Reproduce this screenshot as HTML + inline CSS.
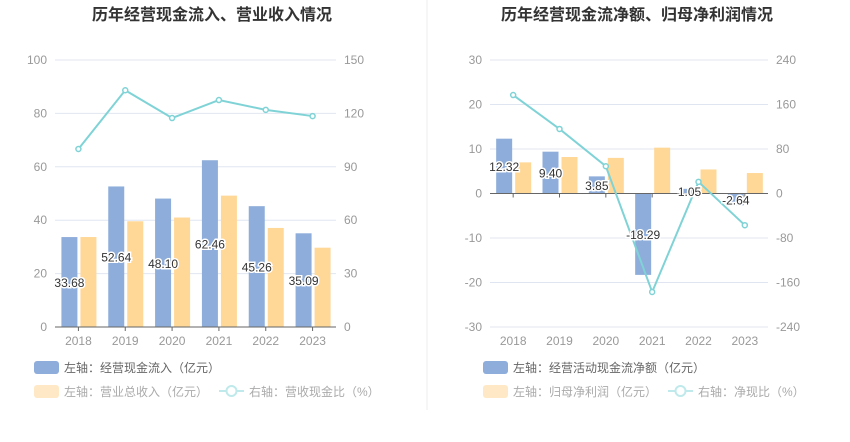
<!DOCTYPE html>
<html><head><meta charset="utf-8">
<style>
html,body{margin:0;padding:0;background:#fff;}
body{width:850px;height:437px;overflow:hidden;font-family:"Liberation Sans","Noto Sans CJK SC",sans-serif;}
svg text{font-family:"Liberation Sans","Noto Sans CJK SC",sans-serif;}
</style></head>
<body>
<svg id="c" width="850" height="437">
<line x1="427" y1="0" x2="427" y2="410" stroke="#eee"/>
<text x="212" y="20" text-anchor="middle" font-size="16" font-weight="bold" fill="#333">历年经营现金流入、营业收入情况</text>
<text x="637" y="20" text-anchor="middle" font-size="16" font-weight="bold" fill="#333">历年经营现金流净额、归母净利润情况</text>
</svg>
<script>
const years=['2018','2019','2020','2021','2022','2023'];
const cashIn=[33.68,52.64,48.10,62.46,45.26,35.09];
const revenue=[33.7,39.6,41.0,49.2,37.1,29.7];
const revRatio=[100,133,117.4,127.5,122,118.5];
const leftTicks=[0,20,40,60,80,100];
const leftRTicks=[0,30,60,90,120,150];
const netCash=[12.32,9.40,3.85,-18.29,1.05,-2.64];
const netProfit=[7.0,8.2,8.0,10.3,5.4,4.6];
const netRatio=[177,116,49,-177,21,-57];
const rightTicks=[-30,-20,-10,0,10,20,30];
const rightRTicks=[-240,-160,-80,0,80,160,240];

const svg=document.getElementById('c');
const NS='http://www.w3.org/2000/svg';
function mk(tag,attrs,txt){const e=document.createElementNS(NS,tag);for(const k in attrs)e.setAttribute(k,attrs[k]);if(txt!==undefined)e.textContent=txt;svg.appendChild(e);return e;}

function chart(o){
  const x0=o.x0,x1=o.x1,yT=60,yB=327;
  const yL=v=>yB-(v-o.lmin)/(o.lmax-o.lmin)*(yB-yT);
  const yR=v=>yB-(v-o.rmin)/(o.rmax-o.rmin)*(yB-yT);
  const bw=(x1-x0)/years.length;
  const cx=i=>x0+bw*(i+0.5);
  o.lt.forEach(t=>{
    const y=yL(t);
    const g=mk('line',{x1:x0,x2:x1,y1:y,y2:y,stroke:'#e0e6f1'});
    
    const l=mk('text',{x:x0-8,y:y+4,'text-anchor':'end','font-size':12,fill:'#999'},t);
    
  });
  o.rt.forEach(t=>{
    const y=yR(t);
    const l=mk('text',{x:x1+8,y:y+4,'text-anchor':'start','font-size':12,fill:'#999'},t);
    
  });
  const z=yL(0);
  years.forEach((yr,i)=>{
    const c=cx(i);
    const v1=o.a[i],v2=o.b[i];
    const b1=mk('rect',{x:c-17,y:Math.min(yL(v1),z),width:16,height:Math.abs(yL(v1)-z),fill:'#8eadda'});
    
    const b2=mk('rect',{x:c+2,y:Math.min(yL(v2),z),width:16,height:Math.abs(yL(v2)-z),fill:'#ffd898'});
    
    const xl=mk('text',{x:c,y:yB+18,'text-anchor':'middle','font-size':12,fill:'#999'},yr);
    
    const tk=mk('line',{x1:c,x2:c,y1:z,y2:z+4,stroke:'#666'});
    
  });
  const ax=mk('line',{x1:x0,x2:x1,y1:z,y2:z,stroke:'#666'});
  
  let pts=o.r.map((v,i)=>cx(i)+','+yR(v)).join(' ');
  const pl=mk('polyline',{points:pts,fill:'none',stroke:'#7fd3d6','stroke-width':2});
  
  o.r.forEach((v,i)=>{
    const p=mk('circle',{cx:cx(i),cy:yR(v),r:2.5,fill:'#fff',stroke:'#7fd3d6','stroke-width':1.5});
    
  });
  o.a.forEach((v,i)=>{
    const y=(yL(v)+z)/2+5;
    const t=mk('text',{x:cx(i)-9,y:y,'text-anchor':'middle','font-size':12,fill:'#333',stroke:'#fff','stroke-width':3,'paint-order':'stroke'},v.toFixed(2));
    
  });
  // legend
  const lx=o.lx;
  const s1=mk('rect',{x:lx,y:361,width:25,height:13,rx:3,fill:'#8eadda'});
  
  const t1=mk('text',{x:lx+30,y:372,'font-size':12,fill:'#666'},o.l1);
  
  const s2=mk('rect',{x:lx,y:385,width:25,height:13,rx:3,fill:'#ffe8c6'});
  
  const t2=mk('text',{x:lx+30,y:396,'font-size':12,fill:'#aaa'},o.l2);
  
  const ll=mk('line',{x1:o.l3x,x2:o.l3x+25,y1:391,y2:391,stroke:'#bfe9eb','stroke-width':2});
  
  const lc=mk('circle',{cx:o.l3x+12.5,cy:391,r:5,fill:'#fff',stroke:'#bfe9eb','stroke-width':2});
  
  const t3=mk('text',{x:o.l3x+30,y:396,'font-size':12,fill:'#aaa'},o.l3);
  
}
chart({x0:55,x1:336,lmin:0,lmax:100,rmin:0,rmax:150,lt:leftTicks,rt:leftRTicks,a:cashIn,b:revenue,r:revRatio,an:'cash-inflow',bn:'revenue',lx:34,l3x:219,
  l1:'左轴：经营现金流入（亿元）',l2:'左轴：营业总收入（亿元）',l3:'右轴：营收现金比（%）'});
chart({x0:490,x1:768,lmin:-30,lmax:30,rmin:-240,rmax:240,lt:rightTicks,rt:rightRTicks,a:netCash,b:netProfit,r:netRatio,an:'net-cash-flow',bn:'net-profit',lx:483,l3x:668,
  l1:'左轴：经营活动现金流净额（亿元）',l2:'左轴：归母净利润（亿元）',l3:'右轴：净现比（%）'});
</script>
</body></html>
